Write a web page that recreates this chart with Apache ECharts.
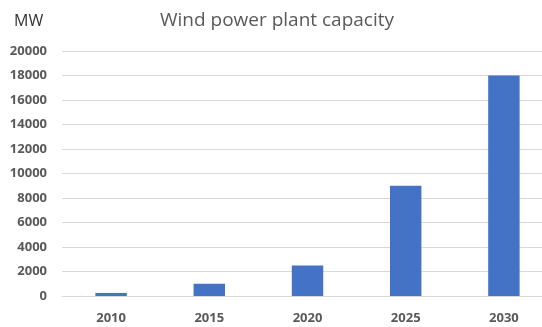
<!DOCTYPE html>
<html>
<head>
<meta charset="utf-8">
<script src="https://cdn.jsdelivr.net/npm/echarts@6/dist/echarts.min.js"></script>
<style>
  html, body { margin: 0; padding: 0; background: #fff; overflow: hidden; }
  #chart { width: 560px; height: 327px; }
</style>
</head>
<body>
<div id="chart"></div>
<script>
// Installed capacity of wind power plants, MW
const years = ['2010', '2015', '2020', '2025', '2030'];
const capacity = [250, 1000, 2500, 9000, 18000];

const chart = echarts.init(document.getElementById('chart'));
chart.setOption({
  animation: false,
  backgroundColor: '#ffffff',
  textStyle: { fontFamily: 'Open Sans, sans-serif' },
  title: [
    {
      text: 'Wind power plant capacity',
      left: 272, top: 6,
      textAlign: 'center',
      textStyle: { fontSize: 19, fontWeight: 'normal', color: '#595959', fontFamily: 'Open Sans, sans-serif' }
    },
    {
      text: 'MW',
      left: 9, top: 8,
      textStyle: { fontSize: 16, fontWeight: 'normal', color: '#333333', fontFamily: 'Open Sans, sans-serif' }
    }
  ],
  grid: { left: 62, top: 51, width: 491, height: 245, containLabel: false },
  xAxis: {
    type: 'category',
    data: years,
    axisLine: { show: true, lineStyle: { color: '#d9d9d9', width: 1 } },
    axisTick: { show: false },
    axisLabel: { color: '#595959', fontSize: 13, fontWeight: 'bold', margin: 16 }
  },
  yAxis: {
    type: 'value',
    min: 0, max: 20000, interval: 2000,
    axisLine: { show: false },
    axisTick: { show: false },
    axisLabel: {
      color: '#595959', fontSize: 13, fontWeight: 'bold', margin: 15,
      formatter: v => String(v)
    },
    splitLine: { lineStyle: { color: '#d9d9d9', width: 1 } }
  },
  series: [{
    type: 'bar',
    data: capacity,
    barWidth: '32%',
    itemStyle: { color: '#4472C4' }
  }]
});
</script>
</body>
</html>
